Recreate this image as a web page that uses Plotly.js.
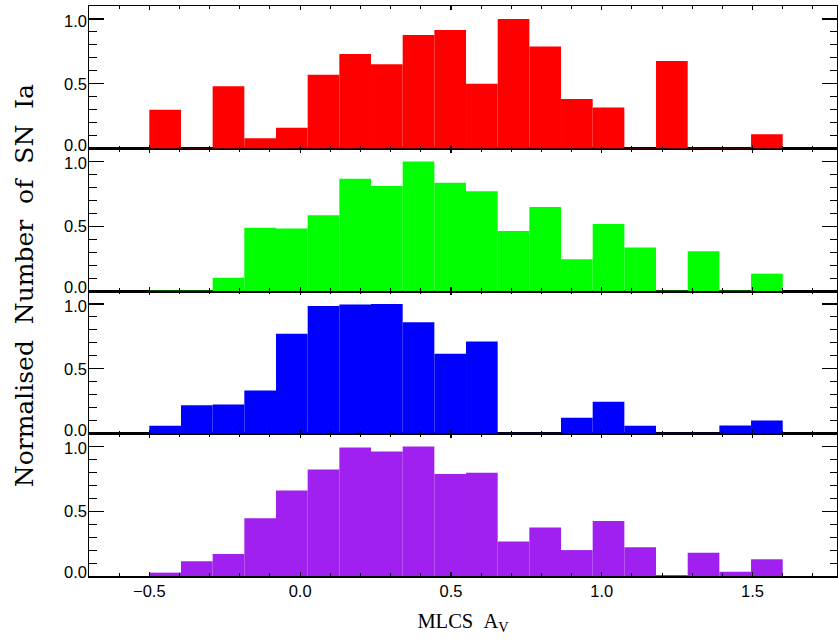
<!DOCTYPE html>
<html>
<head>
<meta charset="utf-8">
<script src="https://cdn.plot.ly/plotly-3.0.1.min.js"></script>
<style>html,body{margin:0;padding:0;background:#fff;}#chart{width:838px;height:641px;}</style>
</head>
<body>
<div id="chart"></div>
<script>
// Histogram bins: 20 bins of width 0.105 from -0.5 to 1.6 (bin centres)
const binCenters = [-0.4475, -0.3425, -0.2375, -0.1325, -0.0275, 0.0775, 0.1825, 0.2875, 0.3925, 0.4975,
                    0.6025, 0.7075, 0.8125, 0.9175, 1.0225, 1.1275, 1.2325, 1.3375, 1.4425, 1.5475];
const binWidth = 0.105;

// Normalised counts per panel (top to bottom)
const redValues    = [0.30, 0.00, 0.48, 0.08, 0.16, 0.57, 0.73, 0.65, 0.876, 0.914,
                      0.50, 1.00, 0.787, 0.383, 0.316, 0.00, 0.676, 0.00, 0.00, 0.11];
const greenValues  = [0.00, 0.00, 0.103, 0.488, 0.483, 0.584, 0.866, 0.81, 1.00, 0.835,
                      0.77, 0.463, 0.649, 0.245, 0.517, 0.336, 0.00, 0.307, 0.00, 0.134];
const blueValues   = [0.059, 0.219, 0.224, 0.332, 0.77, 0.985, 0.995, 1.00, 0.858, 0.616,
                      0.711, 0.00, 0.00, 0.121, 0.245, 0.059, 0.00, 0.00, 0.062, 0.10];
const purpleValues = [0.026, 0.113, 0.17, 0.445, 0.66, 0.823, 0.992, 0.961, 1.00, 0.787,
                      0.797, 0.267, 0.375, 0.20, 0.424, 0.221, 0.00, 0.18, 0.033, 0.129];

const yTickVals = [0, 0.5, 1.0];
const yTickText = ["0.0", "0.5", "1.0"];
// label positions nudged inward at the panel ends (as in the original plot)
const yLabelVals = [0.028, 0.5, 0.983];
const xTitle = "MLCS\u00A0\u00A0A<sub>V</sub>";
const yTitle = "Normalised\u00A0\u00A0Number\u00A0\u00A0of\u00A0\u00A0SN\u00A0\u00A0Ia";

const panels = [
  {vals: purpleValues, color: "#a020f0", dark: "#50107a", xa: "x",  ya: "y",  dom: [0, 0.25]},
  {vals: blueValues,   color: "#0000ff", dark: "#00007a", xa: "x2", ya: "y2", dom: [0.25, 0.5]},
  {vals: greenValues,  color: "#00ff00", dark: "#007a00", xa: "x3", ya: "y3", dom: [0.5, 0.75]},
  {vals: redValues,    color: "#ff0000", dark: "#7a0000", xa: "x4", ya: "y4", dom: [0.75, 1]}
];

const data = panels.map(p => ({
  type: "bar",
  x: binCenters,
  y: p.vals,
  width: binWidth,
  xaxis: p.xa,
  yaxis: p.ya,
  marker: {
    color: p.color,
    line: {
      color: p.vals.map(v => v === 0 ? p.dark : p.color),
      width: p.vals.map(v => v === 0 ? 1.5 : 0)
    }
  },
  hoverinfo: "x+y",
  showlegend: false
}));

const tickFont = {family: "Liberation Sans, Arial, sans-serif", size: 16.5, color: "#000"};

function xAxis(anchor, showLabels) {
  const ax = {
    anchor: anchor,
    range: [-0.7, 1.78],
    tick0: 0, dtick: 0.5,
    ticks: "inside", ticklen: 4, tickwidth: 1.2, tickcolor: "#000",
    minor: {dtick: 0.1, tick0: 0, ticks: "inside", ticklen: 3, tickwidth: 1, tickcolor: "#000", showgrid: false},
    showline: true, linecolor: "#000", linewidth: 1.5, mirror: "ticks",
    showgrid: false, zeroline: false,
    showticklabels: showLabels,
    tickfont: tickFont,
    ticklabelstandoff: 0,
    tickformat: ".1f"
  };
  if (anchor !== "y") ax.matches = "x";
  return ax;
}
function yAxis(domain, anchor) {
  return {
    domain: domain,
    anchor: anchor,
    range: [0, 1.1],
    tickvals: yTickVals,
    ticks: "inside", ticklen: 15, tickwidth: 1.2, tickcolor: "#000",
    minor: {dtick: 0.1, tick0: 0, ticks: "inside", ticklen: 7.5, tickwidth: 1, tickcolor: "#000", showgrid: false},
    showline: true, linecolor: "#000", linewidth: 1.5, mirror: "ticks",
    showgrid: false, zeroline: false,
    showticklabels: false
  };
}
function yLabelAxis(over, anchor) {
  return {
    overlaying: over,
    anchor: anchor,
    side: "left",
    range: [0, 1.1],
    tickvals: yLabelVals,
    ticktext: yTickText,
    ticks: "",
    showline: false, showgrid: false, zeroline: false,
    tickfont: tickFont,
    ticklabelstandoff: 1
  };
}

const xa1 = xAxis("y", true);
xa1.title = {text: xTitle, font: {family: "Liberation Serif, serif", size: 20.5, color: "#000"}, standoff: 14};

const layout = {
  width: 838, height: 641,
  margin: {l: 89, r: 1, t: 6, b: 65},
  paper_bgcolor: "#fff", plot_bgcolor: "#fff",
  bargap: 0,
  showlegend: false,
  xaxis: xa1,
  xaxis2: xAxis("y2", false),
  xaxis3: xAxis("y3", false),
  xaxis4: xAxis("y4", false),
  yaxis: yAxis([0, 0.25], "x"),
  yaxis2: yAxis([0.25, 0.5], "x2"),
  yaxis3: yAxis([0.5, 0.75], "x3"),
  yaxis4: yAxis([0.75, 1], "x4"),
  yaxis5: yLabelAxis("y", "x"),
  yaxis6: yLabelAxis("y2", "x2"),
  yaxis7: yLabelAxis("y3", "x3"),
  yaxis8: yLabelAxis("y4", "x4"),
  annotations: [{
    text: yTitle,
    xref: "paper", yref: "paper",
    x: -0.087, y: 0.51,
    xanchor: "center", yanchor: "middle",
    textangle: -90,
    showarrow: false,
    font: {family: "DejaVu Serif, serif", size: 25, color: "#000"}
  }]
};

// invisible carrier traces so the label axes are drawn
["y5", "y6", "y7", "y8"].forEach((ya, i) => {
  data.push({type: "scatter", mode: "none", x: [binCenters[0]], y: [0], xaxis: panels[i].xa, yaxis: ya,
             hoverinfo: "skip", showlegend: false});
});

Plotly.newPlot("chart", data, layout, {staticPlot: true, displayModeBar: false});
</script>
</body>
</html>
